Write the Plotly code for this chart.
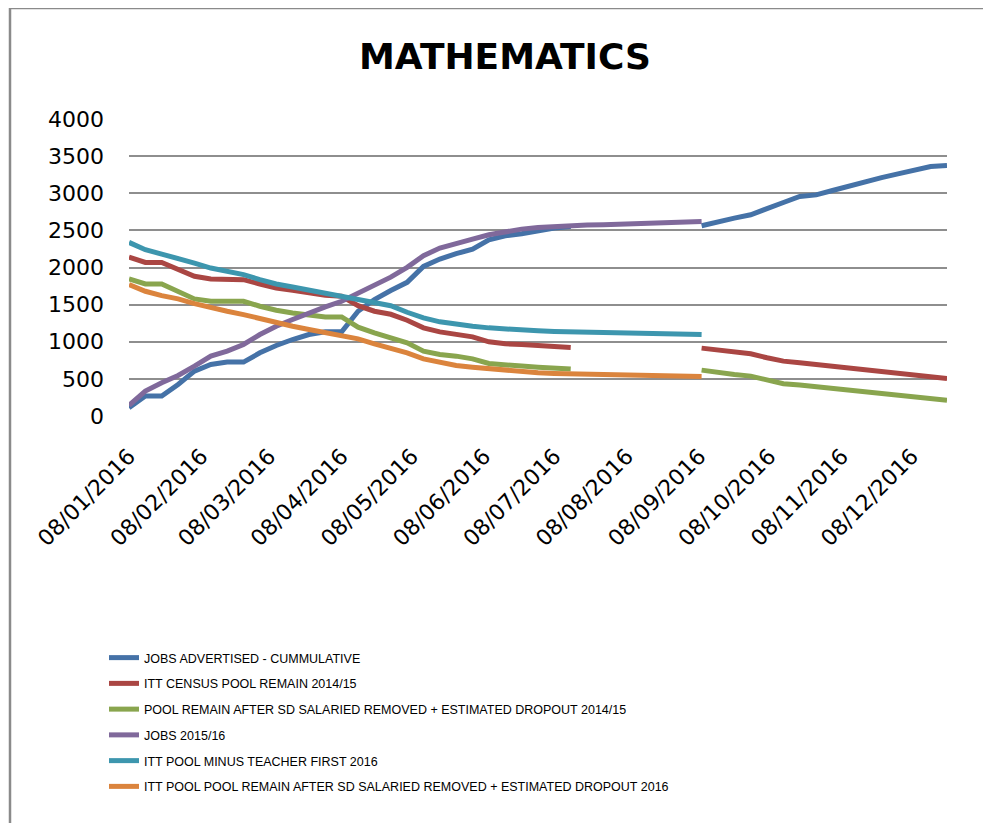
import pandas as pd
import plotly.graph_objects as go

# Weekly dates (Fridays) from 08/01/2016 to 23/12/2016
dates = pd.date_range("2016-01-08", periods=51, freq="7D")

N = None
jobs_advertised = [112, 269, 269, 425, 605, 694, 726, 726, 851, 950, 1030, 1097, 1133, 1133, 1411, 1568,
                   1690, 1800, 2015, 2114, 2186, 2248, 2374, 2428, 2455, 2495, 2531, 2553,
                   N, N, N, N, N, N, N,
                   2562, 2620, 2665, 2710, 2799, 2875, 2956, 2978, 3037, 3099, 3158, 3211, 3261, 3314, 3359, 3373]
itt_census = [2141, 2069, 2069, 1971, 1881, 1845, 1836, 1836, 1778, 1724, 1693, 1657, 1626, 1612, 1487, 1411,
              1370, 1290, 1187, 1133, 1097, 1066, 999, 972, 963, 950, 932, 923,
              N, N, N, N, N, N, N,
              914, 887, 864, 838, 784, 739, 717, 694, 672, 645, 618, 591, 569, 546, 520, 506]
pool_remain_1415 = [1845, 1778, 1778, 1680, 1577, 1545, 1545, 1545, 1478, 1424, 1388, 1366, 1335, 1335, 1196, 1120,
                    1060, 985, 873, 829, 806, 770, 708, 685, 672, 658, 645, 632,
                    N, N, N, N, N, N, N,
                    618, 582, 560, 537, 479, 434, 417, 394, 367, 336, 314, 287, 269, 246, 224, 211]
jobs_1516 = [143, 336, 448, 546, 672, 806, 873, 963, 1097, 1209, 1299, 1388, 1469, 1545, 1657, 1769,
             1870, 2002, 2159, 2262, 2329, 2383, 2441, 2486, 2517, 2540, 2553, 2562, 2571, 2575, 2580, 2584,
             2589, 2598, 2607, 2620] + [N] * 15
itt_minus_tf = [2338, 2240, 2181, 2128, 2060, 1993, 1948, 1904, 1836, 1778, 1738, 1693, 1657, 1612, 1568, 1523,
                1485, 1397, 1321, 1268, 1232, 1209, 1187, 1169, 1156, 1147, 1138, 1133, 1129, 1124, 1120, 1115,
                1111, 1106, 1106, 1097] + [N] * 15
itt_pool_2016 = [1769, 1680, 1621, 1577, 1514, 1456, 1411, 1366, 1308, 1254, 1209, 1165, 1120, 1084, 1039, 972,
                 912, 851, 770, 717, 681, 658, 636, 614, 596, 582, 573, 569, 564, 560, 555, 551,
                 546, 542, 542, 533] + [N] * 15

series_names = [
    "JOBS ADVERTISED - CUMMULATIVE",
    "ITT CENSUS POOL REMAIN 2014/15",
    "POOL REMAIN AFTER SD SALARIED REMOVED + ESTIMATED DROPOUT 2014/15",
    "JOBS 2015/16",
    "ITT POOL MINUS TEACHER FIRST 2016",
    "ITT POOL POOL REMAIN AFTER SD SALARIED REMOVED + ESTIMATED DROPOUT 2016",
]
series_values = [jobs_advertised, itt_census, pool_remain_1415, jobs_1516, itt_minus_tf, itt_pool_2016]
colors = ["#4572A7", "#AA4643", "#89A54E", "#80699B", "#3D96AE", "#DB843D"]

y_ticks = [0, 500, 1000, 1500, 2000, 2500, 3000, 3500, 4000]

fig = go.Figure()
for i, (name, vals, col) in enumerate(zip(series_names, series_values, colors)):
    fig.add_trace(go.Scatter(
        x=dates, y=vals, name=name, mode="lines",
        line=dict(color=col, width=5),
        legendgroup=f"g{i}", connectgaps=False,
    ))

# The page body has an 8px margin, so the figure is drawn 8px in from the window corner.
OFF = 8
W, H = 991 - OFF, 823 - OFF
L, T = 129 - OFF, 119 - OFF
R = W - (947 - OFF)
B = H - (416 - OFF)
pw, ph = W - L - R, H - T - B

def px_x(p):
    return (p - OFF - L) / pw

def px_y(p):
    return (H - B - (p - OFF)) / ph

fig.update_layout(
    width=W, height=H,
    margin=dict(l=L, r=R, t=T, b=B, autoexpand=False),
    paper_bgcolor="white", plot_bgcolor="white",
    title=dict(text="<b>MATHEMATICS</b>", x=(505 - OFF) / W, xanchor="center", xref="container",
               y=1 - (56 - OFF) / H, yanchor="middle", yref="container",
               font=dict(family="DejaVu Sans", size=36, color="black")),
    xaxis=dict(
        type="date", automargin=False,
        range=[dates[0], dates[-1]],
        tick0="2016-01-08", dtick="M1", tickformat="%d/%m/%Y",
        tickangle=-45, showgrid=False, zeroline=False, showline=False,
        ticks="", ticklabelstandoff=22,
        tickfont=dict(family="DejaVu Sans", size=22, color="black"),
    ),
    yaxis=dict(
        automargin=False,
        range=[0, 4000], tickvals=y_ticks, ticktext=[str(v) for v in y_ticks],
        showgrid=True, gridcolor="#8E8E8E", gridwidth=2, zeroline=False, showline=False,
        ticks="", ticklabelstandoff=24,
        tickfont=dict(family="DejaVu Sans", size=22, color="black"),
    ),
    legend=dict(
        xref="container", yref="container",
        x=(104 - OFF) / W, y=1 - (643 - OFF) / H, xanchor="left", yanchor="top",
        orientation="v", traceorder="grouped", tracegroupgap=6.5,
        font=dict(family="Liberation Sans", size=12.5, color="black"),
        bgcolor="rgba(0,0,0,0)",
    ),
    shapes=[
        dict(type="line", xref="paper", yref="paper", x0=px_x(10), x1=px_x(10), y0=px_y(8), y1=px_y(823),
             line=dict(color="#8A8A8A", width=2.5)),
        dict(type="line", xref="paper", yref="paper", x0=px_x(10), x1=px_x(991), y0=px_y(8), y1=px_y(8),
             line=dict(color="#8A8A8A", width=2.5)),
    ],
)

fig.write_html("out.html")
